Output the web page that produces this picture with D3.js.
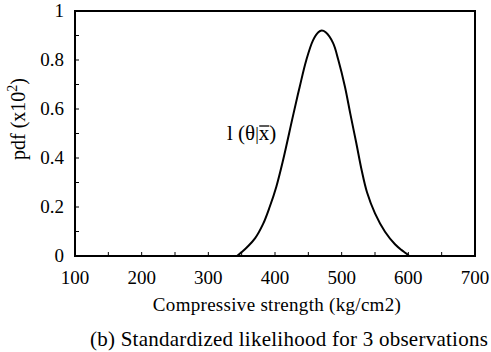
<!DOCTYPE html>
<html><head><meta charset="utf-8">
<script src="https://cdn.jsdelivr.net/npm/d3@7"></script>
<style>
body{margin:0;background:#fff;}
text{font-family:"Liberation Serif","Times New Roman",serif;fill:#000;}
</style></head>
<body><svg id="c" width="491" height="352" xmlns="http://www.w3.org/2000/svg"></svg>
<script>
const strength = [343, 350, 358, 370, 382, 392, 402, 412, 427, 437, 447, 457, 465, 470, 476, 487, 495, 505, 513, 522, 530, 538, 550, 565, 580, 590, 597, 601];
const pdf      = [0, 0.016, 0.036, 0.072, 0.13, 0.2, 0.283, 0.39, 0.572, 0.69, 0.8, 0.88, 0.913, 0.92, 0.913, 0.87, 0.8, 0.69, 0.58, 0.46, 0.35, 0.26, 0.174, 0.099, 0.048, 0.024, 0.01, 0];
const xTicks = [100, 200, 300, 400, 500, 600, 700];
const yTicks = [0, 0.2, 0.4, 0.6, 0.8, 1];
const yTickLabels = ["0", "0.2", "0.4", "0.6", "0.8", "1"];
const xTitle = "Compressive strength (kg/cm2)";
const caption = "(b) Standardized likelihood for 3 observations";

(function () {
const svg = d3.select("#c");
const L = 75, R = 475, T = 11, B = 256;
const x = d3.scaleLinear().domain([100, 700]).range([L, R]);
const y = d3.scaleLinear().domain([0, 1]).range([B, T]);

// frame
svg.append("path")
  .attr("d", `M${x(100)},${y(1)}L${x(700)},${y(1)}L${x(700)},${y(0)}L${x(100)},${y(0)}Z`)
  .attr("fill", "none").attr("stroke", "#000").attr("stroke-width", 2);

// ticks
svg.append("g").selectAll("line").data(d3.range(150, 700, 50)).join("line")
  .attr("x1", d => x(d)).attr("x2", d => x(d)).attr("y1", y(0)).attr("y2", y(0) - 4)
  .attr("stroke", "#000").attr("stroke-width", 1);
svg.append("g").selectAll("line").data(d3.range(1, 10).map(i => i / 10)).join("line")
  .attr("x1", x(100)).attr("x2", x(100) + 4).attr("y1", d => y(d)).attr("y2", d => y(d))
  .attr("stroke", "#000").attr("stroke-width", 1);

svg.append("g").selectAll("text").data(xTicks).join("text")
  .attr("x", d => x(d)).attr("y", 284).attr("text-anchor", "middle")
  .attr("font-size", 19).text(d => d);
svg.append("g").selectAll("text").data(yTicks).join("text")
  .attr("x", 64).attr("y", d => y(d) + 6).attr("text-anchor", "end")
  .attr("font-size", 19).text((d, i) => yTickLabels[i]);

// y title
const yt = svg.append("text").attr("transform", "translate(25,119) rotate(-90)")
  .attr("text-anchor", "middle").attr("font-size", 20);
yt.append("tspan").text("pdf (x10");
yt.append("tspan").attr("font-size", 14).attr("dy", -8).text("2");
yt.append("tspan").attr("dy", 8).text(")");

// x title and caption
svg.append("text").attr("x", 277).attr("y", 311).attr("text-anchor", "middle")
  .attr("font-size", 19).attr("letter-spacing", 0.3).text(xTitle);
svg.append("text").attr("x", 289).attr("y", 346).attr("text-anchor", "middle")
  .attr("font-size", 21).attr("letter-spacing", 0.25).text(caption);

// curve
const line = d3.line().x((d, i) => x(strength[i])).y(d => y(d)).curve(d3.curveCatmullRom.alpha(0.5));
svg.append("path").datum(pdf).attr("d", line).attr("fill", "none")
  .attr("stroke", "#000").attr("stroke-width", 2);

// curve label
const lab = svg.append("text").attr("x", 227).attr("y", 140).attr("font-size", 21);
lab.append("tspan").text("l (θ");
lab.append("tspan").attr("font-size", 18).text("|");
lab.append("tspan").text("x");
lab.append("tspan").text(")");
lab.each(function () {
  const bb = this.childNodes[2].getBBox();
  svg.append("line").attr("x1", bb.x + 0.5).attr("x2", bb.x + bb.width - 0.5)
    .attr("y1", bb.y + 5).attr("y2", bb.y + 5).attr("stroke", "#000").attr("stroke-width", 1.3);
});
})();
</script></body></html>
